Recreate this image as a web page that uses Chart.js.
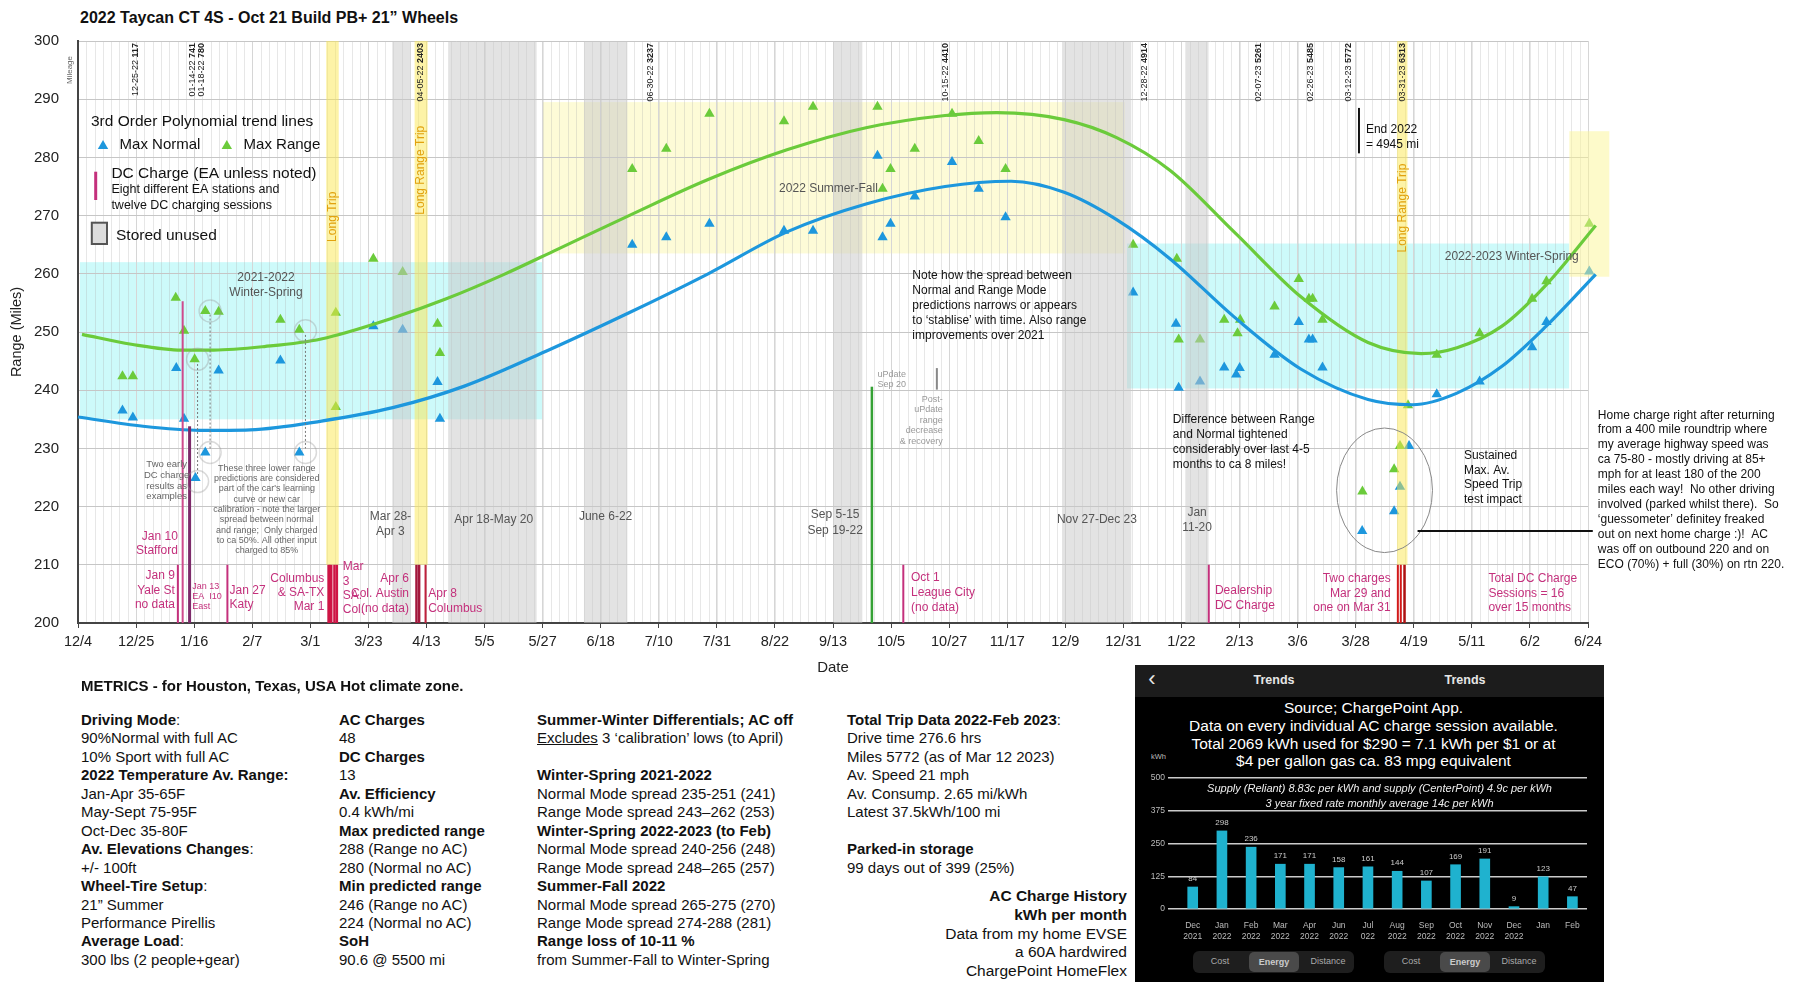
<!DOCTYPE html>
<html lang="en">
<head>
<meta charset="UTF-8" />
<title>Taycan Range Tracker</title>
<script src="https://cdn.jsdelivr.net/npm/chart.js"></script>
<style>
  body { margin:0; width:1800px; height:1001px; position:relative; overflow:hidden; background:#fff;
         font-family:"Liberation Sans", Arial, sans-serif; color:#111; }
  #chartTitle { position:absolute; left:80px; top:9px; font-weight:bold; font-size:16px; }
  #rangeBox { position:absolute; left:0; top:0; width:1800px; height:680px; }
  #metricsTitle { position:absolute; left:81px; top:677px; font-weight:bold; font-size:15px; }
  .col { position:absolute; top:711px; font-size:15px; line-height:18.45px; white-space:nowrap; }
  #acHist { position:absolute; right:673px; top:887px; text-align:right; font-size:15.5px; line-height:18.8px; white-space:nowrap; }
  #trends { position:absolute; left:1135px; top:665px; width:469px; height:317px; background:#000; color:#fff; overflow:hidden; }
  #trends .hdr { position:absolute; left:0; top:0; width:469px; height:32px; background:#1c1c1c; }
  #trends .hdr span { position:absolute; top:8px; font-weight:bold; font-size:12.5px; color:#e6e6e6; transform:translateX(-50%); }
  #trends .back { font-size:22px !important; top:1px !important; font-weight:normal !important; }
  #trends .src { position:absolute; left:4px; top:34px; width:469px; text-align:center; font-size:15.5px; line-height:17.8px; }
  #trends .kwh { position:absolute; left:16px; top:87px; font-size:7.5px; color:#bbb; }
  #trends .supply { position:absolute; left:10px; top:116px; width:469px; text-align:center; font-style:italic; font-size:11px; line-height:15px; color:#eee; z-index:2; }
  #kwhBox { position:absolute; left:0; top:95px; width:469px; height:182px; }
  .seg { position:absolute; top:286px; width:161px; height:22px; background:#1e1e1e; border-radius:6px; font-size:9px; color:#aaa; }
  .seg span { position:absolute; top:5px; transform:translateX(-50%); }
  .seg .on { top:1px; height:20px; width:50px; line-height:20px; text-align:center; background:#4a4a4a; border-radius:5px; color:#ccc; font-weight:bold; }
</style>
</head>
<body>
<div id="chartTitle">2022 Taycan CT 4S - Oct 21 Build PB+ 21” Wheels</div>
<div id="rangeBox"><canvas id="rangeChart"></canvas></div>

<div id="metricsTitle">METRICS - for Houston, Texas, USA Hot climate zone.</div>
<div class="col" style="left:81px">
  <div><b>Driving Mode</b>:</div>
  <div>90%Normal with full AC</div>
  <div>10% Sport with full AC</div>
  <div><b>2022 Temperature Av. Range:</b></div>
  <div>Jan-Apr 35-65F</div>
  <div>May-Sept 75-95F</div>
  <div>Oct-Dec 35-80F</div>
  <div><b>Av. Elevations Changes</b>:</div>
  <div>+/- 100ft</div>
  <div><b>Wheel-Tire Setup</b>:</div>
  <div>21” Summer</div>
  <div>Performance Pirellis</div>
  <div><b>Average Load</b>:</div>
  <div>300 lbs (2 people+gear)</div>
</div>
<div class="col" style="left:339px">
  <div><b>AC Charges</b></div>
  <div>48</div>
  <div><b>DC Charges</b></div>
  <div>13</div>
  <div><b>Av. Efficiency</b></div>
  <div>0.4 kWh/mi</div>
  <div><b>Max predicted range</b></div>
  <div>288 (Range no AC)</div>
  <div>280 (Normal no AC)</div>
  <div><b>Min predicted range</b></div>
  <div>246 (Range no AC)</div>
  <div>224 (Normal no AC)</div>
  <div><b>SoH</b></div>
  <div>90.6 @ 5500 mi</div>
</div>
<div class="col" style="left:537px">
  <div><b>Summer-Winter Differentials; AC off</b></div>
  <div><u>Excludes</u> 3 ‘calibration’ lows (to April)</div>
  <div>&nbsp;</div>
  <div><b>Winter-Spring 2021-2022</b></div>
  <div>Normal Mode spread 235-251 (241)</div>
  <div>Range Mode spread 243–262 (253)</div>
  <div><b>Winter-Spring 2022-2023 (to Feb)</b></div>
  <div>Normal Mode spread 240-256 (248)</div>
  <div>Range Mode spread 248–265 (257)</div>
  <div><b>Summer-Fall 2022</b></div>
  <div>Normal Mode spread 265-275 (270)</div>
  <div>Range Mode spread 274-288 (281)</div>
  <div><b>Range loss of 10-11 %</b></div>
  <div>from Summer-Fall to Winter-Spring</div>
</div>
<div class="col" style="left:847px">
  <div><b>Total Trip Data 2022-Feb 2023</b>:</div>
  <div>Drive time 276.6 hrs</div>
  <div>Miles 5772 (as of Mar 12 2023)</div>
  <div>Av. Speed 21 mph</div>
  <div>Av. Consump. 2.65 mi/kWh</div>
  <div>Latest 37.5kWh/100 mi</div>
  <div>&nbsp;</div>
  <div><b>Parked-in storage</b></div>
  <div>99 days out of 399 (25%)</div>
</div>
<div id="acHist">
  <div><b>AC Charge History</b></div>
  <div><b>kWh per month</b></div>
  <div>Data from my home EVSE</div>
  <div>a 60A hardwired</div>
  <div>ChargePoint HomeFlex</div>
</div>

<div id="trends">
  <div class="hdr">
    <span class="back" style="left:17px">‹</span>
    <span style="left:139px">Trends</span>
    <span style="left:330px">Trends</span>
  </div>
  <div class="src">Source; ChargePoint App.<br>Data on every individual AC charge session available.<br>Total 2069 kWh used for $290 = 7.1 kWh per $1 or at<br>$4 per gallon gas ca. 83 mpg equivalent</div>
  <div class="kwh">kWh</div>
  <div class="supply">Supply (Reliant) 8.83c per kWh and supply (CenterPoint) 4.9c per kWh<br>3 year fixed rate monthly average 14c per kWh</div>
  <div id="kwhBox"><canvas id="kwhChart"></canvas></div>
  <div class="seg" style="left:58px"><span style="left:27px">Cost</span><span class="on" style="left:81px">Energy</span><span style="left:135px">Distance</span></div>
  <div class="seg" style="left:249px"><span style="left:27px">Cost</span><span class="on" style="left:81px">Energy</span><span style="left:135px">Distance</span></div>
</div>

<script>
// x values are days since 12/4/2021
const spanDays = 567;
const tickLabels = ['12/4','12/25','1/16','2/7','3/1','3/23','4/13','5/5','5/27','6/18','7/10','7/31','8/22',
  '9/13','10/5','10/27','11/17','12/9','12/31','1/22','2/13','3/6','3/28','4/19','5/11','6/2','6/24'];

const normalDays = [16.7,20.6,36.9,39.8,44.1,47.8,52.8,76,83.1,110.9,121.9,135,135.9,208.1,220.9,237.1,265.1,276,
  300.2,302.1,305.1,314.2,328.2,338.2,348.3,396.2,412.3,413.3,421.3,430.4,434.9,436.2,449.3,458.4,462.2,463.6,467.3,
  482.2,494.2,496.4,499.8,510.2,526.3,546,551.4,567.5];
const normalMiles = [236.5,235.3,243.8,235.1,224.9,229.3,243.4,245.1,229.3,251.0,250.4,241.4,235.1,265.0,266.3,268.6,267.4,267.4,
  280.3,266.3,268.6,273.3,279.2,274.6,269.7,256.8,251.4,240.4,241.5,243.9,242.7,243.8,246.1,251.7,248.7,248.7,243.9,
  215.8,219.2,223.4,230.4,239.3,241.5,247.4,251.7,260.4];

const rangeDays = [16.7,20.6,36.7,39.8,43.8,47.8,52.8,76,83.1,96.8,96.8,110.9,121.9,135,135.9,208.1,220.9,237.1,265.1,276,
  300.2,302.1,305.1,314.2,328.2,338.2,348.3,396.2,412.6,413.3,421.3,430.4,435.4,436.4,449.3,458.4,462.2,463.6,467.3,
  482.3,494.2,496.4,499.4,510.2,526.3,546,551.4,567.5];
const rangeMiles = [242.4,242.4,255.9,250.2,245.3,253.6,253.5,252.1,250.4,253.3,237.1,262.6,260.3,251.4,246.4,278.0,281.5,287.5,286.2,288.7,
  288.7,274.6,278.0,281.5,287.5,282.8,278.0,265.0,262.6,248.7,248.7,252.1,249.8,252.1,254.4,259.1,255.7,255.7,252.1,
  222.6,226.4,230.4,237.4,246.1,249.8,255.7,258.7,268.6];

// 3rd order trend lines
const normalTrendDays = [0,24.4,45.8,64.6,91.4,118.2,145.1,177.2,206.9,236.6,266.2,295.9,325.6,350.4,370.3,390,410,434.1,459.3,484.4,501.1,517.8,534.7,551.3,569.9];
const normalTrendMiles = [235.4,233.8,233.1,233.2,234.7,237.0,240.7,247.0,253.3,260.0,267.2,272.0,275.0,275.9,274.0,269.3,262.6,252.6,243.6,238.4,237.5,239.5,244.1,251.0,259.9];
const rangeTrendDays = [1.5,20,39,51,70,91.3,118.2,138.3,160,180,206.9,236.6,266.2,295.9,325.6,345,370.3,390,410,434.1,459.3,484.4,504.4,517.8,534.7,551.3,569.9];
const rangeTrendMiles = [249.6,247.9,246.9,246.9,247.5,248.8,252.4,255.7,259.9,264.2,270.0,276.2,281.3,285.1,287.2,287.7,286.5,283.4,277.8,267.2,256.0,248.2,246.3,247.3,251.0,258.1,268.3];

// periods as placed on the chart
const storedFrom = [118, 139, 190, 283.7, 369.5, 415.8];
const storedTo = [125, 172.2, 206.3, 294.5, 395.5, 424.5];
const tripFrom = [93.2, 126.4, 495.3];
const tripTo = [97.9, 131.3, 499.2];
const tripNames = ['Long Trip', 'Long Range Trip', 'Long Range Trip'];
const tripLabelMiles = [269.8, 277.8, 271.3];

const seasonFrom = [0.75, 174.5, 393.9];
const seasonTo = [174.5, 393, 559.9];
const seasonLow = [235, 263.5, 240.3];
const seasonHigh = [262, 289.5, 265.2];

const dcDays = [37.5, 56.1, 94.2, 95.0, 96.3, 97.2, 127.1, 128.1, 130.5, 309.9, 424.6, 495.6, 496.7, 498.1];
const dcTallDays = [39.3, 41.9];
const dcTallTop = [255.3, 233.8];

const mileDays = [21.6, 42.9, 46.2, 128.7, 214.9, 325.9, 400.3, 443.4, 462.8, 477.2, 497.3];
const mileDates = ['12-25-22', '01-14-22', '01-18-22', '04-05-22', '06-30-22', '10-15-22', '12-28-22', '02-07-23', '02-26-23', '03-12-23', '03-31-23'];
const mileCounts = ['117', '741', '780', '2403', '3237', '4410', '4914', '5261', '5485', '5772', '6313'];

const chargeMonths = [['Dec','2021'],['Jan','2022'],['Feb','2022'],['Mar','2022'],['Apr','2022'],['Jun','2022'],['Jul','022'],
  ['Aug','2022'],['Sep','2022'],['Oct','2022'],['Nov','2022'],['Dec','2022'],['Jan'],['Feb']];
const chargeKwh = [84, 298, 236, 171, 171, 158, 161, 144, 107, 169, 191, 9, 123, 47];

const BLUE = '#1d97dd';
const GREEN = '#6bcb3b';
const MAG = '#c4307c';
const GREY = '#555';
const FONT = '"Liberation Sans", Arial, sans-serif';

const notes = [
  { lines: ['2021-2022', 'Winter-Spring'], d: 70.6, v: 259.4, align: 'center', size: 12, lh: 15, color: GREY },
  { lines: ['Two early', 'DC charge', 'results as', 'examples'], d: 33.3, v: 227.2, align: 'center', size: 9.5, lh: 10.7, color: '#666' },
  { lines: ['These three lower range', 'predictions are considered', "part of the car's learning", 'curve or new car',
      'calibration - note the larger', 'spread between normal', 'and range;  Only charged', 'to ca 50%. All other input', 'charged to 85%'],
    d: 70.9, v: 226.6, align: 'center', size: 9, lh: 10.35, color: '#666' },
  { lines: ['Jan 10', 'Stafford'], d: 37.5, v: 214.9, align: 'right', size: 12, lh: 14, color: MAG },
  { lines: ['Jan 9', 'Yale St', 'no data'], d: 36.4, v: 208.1, align: 'right', size: 12, lh: 14.5, color: MAG },
  { lines: ['Jan 13', 'EA  I10', 'East'], d: 42.9, v: 206.3, align: 'left', size: 9, lh: 10.3, color: MAG },
  { lines: ['Jan 27', 'Katy'], d: 56.9, v: 205.6, align: 'left', size: 12, lh: 14, color: MAG },
  { lines: ['Columbus', '& SA-TX', 'Mar 1'], d: 92.5, v: 207.6, align: 'right', size: 12, lh: 14.2, color: MAG },
  { lines: ['Mar', '3', 'SA.', 'Col.'], d: 99.4, v: 209.6, align: 'left', size: 12, lh: 14.3, color: MAG },
  { lines: ['Apr 6', 'Col. Austin', '(no data)'], d: 124.3, v: 207.6, align: 'right', size: 12, lh: 15.2, color: MAG },
  { lines: ['Apr 8', 'Columbus'], d: 131.5, v: 205, align: 'left', size: 12, lh: 15, color: MAG },
  { lines: ['Mar 28-', 'Apr 3'], d: 117.3, v: 218.3, align: 'center', size: 12, lh: 15, color: GREY },
  { lines: ['Apr 18-May 20'], d: 156.1, v: 217.8, align: 'center', size: 12, lh: 15, color: GREY },
  { lines: ['June 6-22'], d: 198.1, v: 218.3, align: 'center', size: 12, lh: 15, color: GREY },
  { lines: ['Sep 5-15', 'Sep 19-22'], d: 284.3, v: 218.6, align: 'center', size: 12, lh: 16, color: GREY },
  { lines: ['uPdate', 'Sep 20'], d: 300.2, v: 242.7, align: 'left', size: 9, lh: 10, color: '#999' },
  { lines: ['Post-', 'uPdate', 'range', 'decrease', '& recovery'], d: 324.7, v: 238.4, align: 'right', size: 9, lh: 10.4, color: '#999' },
  { lines: ['Note how the spread between', 'Normal and Range Mode', 'predictions narrows or appears',
      'to ‘stablise’ with time. Also range', 'improvements over 2021'], d: 313.3, v: 259.7, align: 'left', size: 12, lh: 15, color: '#111' },
  { lines: ['2022 Summer-Fall'], d: 281.8, v: 274.7, align: 'center', size: 12, lh: 15, color: GREY },
  { lines: ['Nov 27-Dec 23'], d: 382.6, v: 217.8, align: 'center', size: 12, lh: 15, color: GREY },
  { lines: ['Jan', '11-20'], d: 420.2, v: 218.9, align: 'center', size: 12, lh: 14.4, color: GREY },
  { lines: ['Oct 1', 'League City', '(no data)'], d: 312.8, v: 207.7, align: 'left', size: 12, lh: 14.7, color: MAG },
  { lines: ['Dealership', 'DC Charge'], d: 426.9, v: 205.6, align: 'left', size: 12, lh: 15, color: MAG },
  { lines: ['Two charges', 'Mar 29 and', 'one on Mar 31'], d: 492.9, v: 207.6, align: 'right', size: 12, lh: 14.5, color: MAG },
  { lines: ['Total DC Charge', 'Sessions = 16', 'over 15 months'], d: 529.6, v: 207.6, align: 'left', size: 12, lh: 14.5, color: MAG },
  { lines: ['Difference between Range', 'and Normal tightened', 'considerably over last 4-5', 'months to ca 8 miles!'],
    d: 411.1, v: 234.9, align: 'left', size: 12, lh: 15, color: '#111' },
  { lines: ['Sustained', 'Max. Av.', 'Speed Trip', 'test impact'], d: 520.4, v: 228.8, align: 'left', size: 12, lh: 14.9, color: '#111' },
  { lines: ['2022-2023 Winter-Spring'], d: 513.2, v: 263.0, align: 'left', size: 12, lh: 15, color: GREY },
  { lines: ['End 2022', '= 4945 mi'], d: 483.6, v: 284.7, align: 'left', size: 12, lh: 15, color: '#111' },
  { lines: ['Home charge right after returning', 'from a 400 mile roundtrip where', 'my average highway speed was',
      'ca 75-80 - mostly driving at 85+', 'mph for at least 180 of the 200', 'miles each way!  No other driving',
      'involved (parked whilst there).  So', '‘guessometer’ definitey freaked', 'out on next home charge :)!  AC',
      'was off on outbound 220 and on', 'ECO (70%) + full (30%) on rtn 220.'],
    d: 570.7, v: 235.7, align: 'left', size: 12, lh: 14.9, color: '#111' }
];

function pairs(xs, ys) {
  return xs.map((x, i) => ({ x: x, y: ys[i] }));
}

function triangle(ctx, x, y, r, color) {
  ctx.fillStyle = color;
  ctx.beginPath();
  ctx.moveTo(x, y - r);
  ctx.lineTo(x + r * Math.sin(2 * Math.PI / 3), y + r / 2);
  ctx.lineTo(x - r * Math.sin(2 * Math.PI / 3), y + r / 2);
  ctx.closePath();
  ctx.fill();
}

function vline(ctx, x, y1, y2, color, width, dash) {
  ctx.save();
  ctx.strokeStyle = color;
  ctx.lineWidth = width;
  if (dash) ctx.setLineDash(dash);
  ctx.beginPath();
  ctx.moveTo(x, y1);
  ctx.lineTo(x, y2);
  ctx.stroke();
  ctx.restore();
}

let bandsDone = false;

const decor = {
  id: 'decor',
  beforeDraw(chart) {
    const { ctx, chartArea: a, scales: { x, y } } = chart;
    ctx.save();
    const seasonColors = ['rgba(175,247,247,0.62)', 'rgba(250,245,160,0.42)', 'rgba(175,247,247,0.62)'];
    seasonFrom.forEach((d, i) => {
      const x1 = x.getPixelForValue(d), x2 = x.getPixelForValue(seasonTo[i]);
      const y1 = y.getPixelForValue(seasonHigh[i]), y2 = y.getPixelForValue(seasonLow[i]);
      ctx.fillStyle = seasonColors[i];
      ctx.fillRect(x1, y1, x2 - x1, y2 - y1);
    });
    // minor vertical grid
    ctx.strokeStyle = 'rgba(170,170,170,0.28)';
    ctx.lineWidth = 1;
    const step = spanDays / (tickLabels.length - 1) / 7;
    for (let d = 0; d <= spanDays + 0.01; d += step) {
      const X = Math.round(x.getPixelForValue(d)) + 0.5;
      ctx.beginPath();
      ctx.moveTo(X, a.top);
      ctx.lineTo(X, a.bottom);
      ctx.stroke();
    }
    ctx.restore();
  },
  beforeDatasetsDraw() {
    bandsDone = false;
  },
  beforeDatasetDraw(chart, args) {
    if (bandsDone || chart.data.datasets[args.index].type !== 'line') return;
    bandsDone = true;
    const { ctx, scales: { x, y } } = chart;
    ctx.save();
    ctx.fillStyle = 'rgba(200,200,200,0.5)';
    storedFrom.forEach((d, i) => {
      const x1 = x.getPixelForValue(d), x2 = x.getPixelForValue(storedTo[i]);
      ctx.fillRect(x1, y.getPixelForValue(300), x2 - x1, y.getPixelForValue(200) - y.getPixelForValue(300));
    });
    ctx.fillStyle = 'rgba(252,232,80,0.5)';
    tripFrom.forEach((d, i) => {
      const x1 = x.getPixelForValue(d), x2 = x.getPixelForValue(tripTo[i]);
      ctx.fillRect(x1, y.getPixelForValue(300), x2 - x1, y.getPixelForValue(210) - y.getPixelForValue(300));
    });
    // late spring 2023 block, runs past the axis
    const bx1 = x.getPixelForValue(560), bx2 = x.getPixelForValue(575);
    ctx.fillStyle = 'rgba(252,245,150,0.5)';
    ctx.fillRect(bx1, y.getPixelForValue(284.5), bx2 - bx1, y.getPixelForValue(259.5) - y.getPixelForValue(284.5));
    ctx.restore();
  },
  afterDatasetsDraw(chart) {
    const { ctx, chartArea: a, scales: { x, y } } = chart;
    const px = d => x.getPixelForValue(d);
    const py = v => y.getPixelForValue(v);
    ctx.save();

    // DC charge markers
    const dcColors = [MAG, MAG, '#cf1445', '#cf1445', '#cf1445', '#cf1445', '#a3173c', '#a3173c', '#c0203c', MAG, MAG, '#d21a1a', '#d21a1a', '#b01212'];
    const dcWidths = [2, 2, 3, 3, 2.5, 2.5, 2.5, 2.5, 2, 2, 2, 2, 2, 2.5];
    dcDays.forEach((d, i) => vline(ctx, px(d), py(200), py(210), dcColors[i], dcWidths[i]));
    vline(ctx, px(dcTallDays[0]), py(200), py(dcTallTop[0]), '#cf4a8c', 2);
    vline(ctx, px(dcTallDays[1]), py(200), py(dcTallTop[1]), '#7d2a6a', 3);

    // software update and its dip
    vline(ctx, px(298.1), py(200), py(240.6), '#35a135', 2.5);
    vline(ctx, px(322.5), py(240.1), py(243.8), '#888', 2);

    // calibration lows: circles and dotted links
    ctx.strokeStyle = 'rgba(150,150,150,0.35)';
    ctx.lineWidth = 1.5;
    [[44.9, 245.3], [44.9, 224.3], [49.6, 253.6], [49.6, 229.3], [85.4, 250.2], [85.4, 229.3]].forEach(c => {
      ctx.beginPath();
      ctx.arc(px(c[0]), py(c[1]), 11, 0, Math.PI * 2);
      ctx.stroke();
    });
    vline(ctx, px(44.9), py(244.5), py(225.5), '#777', 1, [2, 2]);
    vline(ctx, px(49.6), py(253), py(230), '#777', 1, [2, 2]);
    vline(ctx, px(85.4), py(249.5), py(230), '#777', 1, [2, 2]);

    // high speed trip ellipse and pointer
    ctx.strokeStyle = '#888';
    ctx.lineWidth = 1;
    ctx.beginPath();
    ctx.ellipse(px(490.6), py(222.8), (px(508.6) - px(472.6)) / 2, (py(212.1) - py(233.5)) / 2, 0, 0, Math.PI * 2);
    ctx.stroke();
    ctx.strokeStyle = '#111';
    ctx.lineWidth = 2;
    ctx.beginPath();
    ctx.moveTo(px(503), py(215.8));
    ctx.lineTo(px(568.8), py(215.8));
    ctx.stroke();
    vline(ctx, px(481), py(288.5), py(280.7), '#111', 2);

    // odometer readings along the top
    ctx.fillStyle = '#222';
    ctx.textBaseline = 'middle';
    mileDays.forEach((d, i) => {
      ctx.save();
      ctx.translate(px(d), a.top + 2);
      ctx.rotate(-Math.PI / 2);
      ctx.font = '9px ' + FONT;
      const w1 = ctx.measureText(mileDates[i] + ' ').width;
      ctx.font = 'bold 9px ' + FONT;
      const w2 = ctx.measureText(mileCounts[i]).width;
      ctx.textAlign = 'left';
      ctx.font = '9px ' + FONT;
      ctx.fillText(mileDates[i] + ' ', -(w1 + w2), 0);
      ctx.font = 'bold 9px ' + FONT;
      ctx.fillText(mileCounts[i], -w2, 0);
      ctx.restore();
    });
    ctx.save();
    ctx.translate(a.left - 8, a.top + 29);
    ctx.rotate(-Math.PI / 2);
    ctx.font = '8px ' + FONT;
    ctx.fillStyle = '#666';
    ctx.textAlign = 'center';
    ctx.fillText('Mileage', 0, 0);
    ctx.restore();

    // trip labels
    tripFrom.forEach((d, i) => {
      ctx.save();
      ctx.translate(px((d + tripTo[i]) / 2), py(tripLabelMiles[i]));
      ctx.rotate(-Math.PI / 2);
      ctx.font = '12px ' + FONT;
      ctx.fillStyle = '#e2a20e';
      ctx.textAlign = 'center';
      ctx.fillText(tripNames[i], 0, 0);
      ctx.restore();
    });

    // notes
    notes.forEach(n => {
      ctx.font = n.size + 'px ' + FONT;
      ctx.fillStyle = n.color;
      ctx.textAlign = n.align;
      n.lines.forEach((t, i) => ctx.fillText(t, px(n.d), py(n.v) + i * n.lh));
    });

    // legend
    const L = a.left, T = a.top;
    ctx.textAlign = 'left';
    ctx.fillStyle = '#111';
    ctx.font = '15.5px ' + FONT;
    ctx.fillText('3rd Order Polynomial trend lines', L + 13, T + 81);
    triangle(ctx, L + 25, T + 105, 6, BLUE);
    triangle(ctx, L + 148.8, T + 105, 6, GREEN);
    ctx.fillStyle = '#111';
    ctx.font = '15px ' + FONT;
    ctx.fillText('Max Normal', L + 41.6, T + 104);
    ctx.fillText('Max Range', L + 165.6, T + 104);
    vline(ctx, L + 17.7, T + 130.7, T + 159, MAG, 3);
    ctx.font = '15.5px ' + FONT;
    ctx.fillText('DC Charge (EA unless noted)', L + 33.4, T + 132.3);
    ctx.font = '12.5px ' + FONT;
    ctx.fillText('Eight different EA stations and', L + 33.4, T + 148.3);
    ctx.fillText('twelve DC charging sessions', L + 33.4, T + 164.3);
    ctx.fillStyle = '#ddd';
    ctx.fillRect(L + 13.8, T + 181.7, 15.2, 21.3);
    ctx.strokeStyle = '#555';
    ctx.lineWidth = 2;
    ctx.strokeRect(L + 13.8, T + 181.7, 15.2, 21.3);
    ctx.fillStyle = '#111';
    ctx.font = '15.5px ' + FONT;
    ctx.fillText('Stored unused', L + 38, T + 195);
    ctx.restore();
  }
};

Chart.defaults.font.family = FONT;

new Chart(document.getElementById('rangeChart'), {
  type: 'scatter',
  data: {
    datasets: [
      { type: 'line', label: 'Normal trend', data: pairs(normalTrendDays, normalTrendMiles), borderColor: BLUE, borderWidth: 3.2,
        pointRadius: 0, fill: false, cubicInterpolationMode: 'monotone', order: 1, clip: false },
      { type: 'line', label: 'Range trend', data: pairs(rangeTrendDays, rangeTrendMiles), borderColor: GREEN, borderWidth: 3.2,
        pointRadius: 0, fill: false, cubicInterpolationMode: 'monotone', order: 1, clip: false },
      { label: 'Max Normal', data: pairs(normalDays, normalMiles), pointStyle: 'triangle', pointRadius: 6,
        backgroundColor: BLUE, borderWidth: 0, order: 2, clip: false },
      { label: 'Max Range', data: pairs(rangeDays, rangeMiles), pointStyle: 'triangle', pointRadius: 6,
        backgroundColor: GREEN, borderWidth: 0, order: 2, clip: false }
    ]
  },
  options: {
    responsive: true,
    maintainAspectRatio: false,
    animation: false,
    events: [],
    layout: { padding: { top: 41, right: 212, left: 0, bottom: 0 } },
    plugins: { legend: { display: false }, tooltip: { enabled: false } },
    scales: {
      x: {
        type: 'linear', min: 0, max: spanDays,
        afterFit: s => { s.height = 57; },
        afterBuildTicks: s => { s.ticks = tickLabels.map((_, i) => ({ value: i * spanDays / (tickLabels.length - 1) })); },
        ticks: { callback: (v, i) => tickLabels[i], autoSkip: false, maxRotation: 0, font: { size: 14.5 }, color: '#222', padding: 5 },
        grid: { color: '#d6d6d6', tickColor: '#444', tickLength: 5 },
        border: { color: '#444', width: 2 },
        title: { display: true, text: 'Date', font: { size: 15 }, color: '#222', padding: { bottom: 3 } }
      },
      y: {
        min: 200, max: 300,
        afterFit: s => { s.width = 78; },
        ticks: { stepSize: 10, font: { size: 15 }, color: '#222', padding: 19 },
        grid: { color: '#c6c6c6', drawTicks: false },
        border: { color: '#444', width: 2 },
        title: { display: true, text: 'Range (Miles)', font: { size: 14.5 }, color: '#222', padding: { top: 8 } }
      }
    }
  },
  plugins: [decor]
});

// ChargePoint monthly energy inset
const barLabels = {
  id: 'barLabels',
  afterDatasetsDraw(chart) {
    const { ctx } = chart;
    ctx.save();
    ctx.font = '8px ' + FONT;
    ctx.fillStyle = '#ccc';
    ctx.textAlign = 'center';
    chart.getDatasetMeta(0).data.forEach((el, i) => ctx.fillText(chargeKwh[i], el.x, el.y - 6));
    ctx.restore();
  }
};

new Chart(document.getElementById('kwhChart'), {
  type: 'bar',
  data: {
    datasets: [{ data: pairs(chargeKwh.map((_, i) => i), chargeKwh), backgroundColor: '#1fb2cf', barThickness: 10 }]
  },
  options: {
    responsive: true,
    maintainAspectRatio: false,
    animation: false,
    events: [],
    layout: { padding: { top: 18, right: 17, left: 0, bottom: 0 } },
    plugins: { legend: { display: false }, tooltip: { enabled: false } },
    scales: {
      x: {
        type: 'linear', min: -0.846, max: 13.5, offset: false,
        afterFit: s => { s.height = 33; },
        afterBuildTicks: s => { s.ticks = chargeMonths.map((_, i) => ({ value: i })); },
        ticks: { callback: (v, i) => chargeMonths[i], autoSkip: false, maxRotation: 0, font: { size: 8.5 }, color: '#bbb', padding: 4 },
        grid: { display: false },
        border: { display: false }
      },
      y: {
        min: 0, max: 500,
        afterFit: s => { s.width = 33; },
        ticks: { stepSize: 125, font: { size: 8.5 }, color: '#bbb', padding: 3 },
        grid: { color: 'rgba(225,225,225,0.9)', lineWidth: 1.5, drawTicks: false },
        border: { display: false }
      }
    }
  },
  plugins: [barLabels]
});
</script>
</body>
</html>
